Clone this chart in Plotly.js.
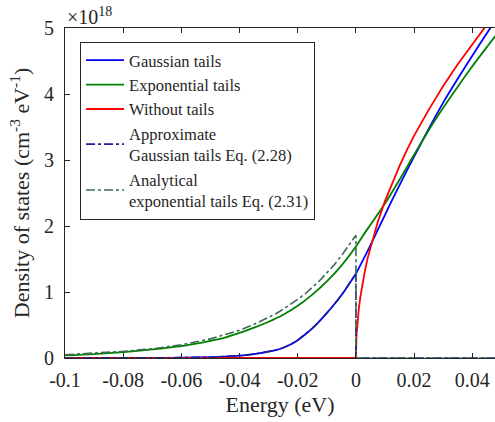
<!DOCTYPE html>
<html>
<head>
<meta charset="utf-8">
<script src="https://cdn.plot.ly/plotly-3.0.1.min.js"></script>
<style>
body{margin:0;font-family:"Liberation Serif";}
#chart text{font-family:"Liberation Serif" !important;}
</style>
</head>
<body>
<div id="chart" style="width:495px;height:422px"></div>
<script>
// Energy grids (eV) and density of states (x 1e18 cm^-3 eV^-1)
const gaussE = [-0.1,-0.09,-0.08,-0.07,-0.06,-0.05,-0.045,-0.04,-0.035,-0.03,-0.0275,-0.025,-0.0225,-0.02,-0.0175,-0.015,-0.0125,-0.01,-0.0075,-0.005,-0.0025,0,0.0025,0.005,0.0075,0.01,0.0125,0.015,0.0175,0.02,0.025,0.03,0.035,0.04,0.045,0.048];
const gaussDOS = [0,0,0.001,0.002,0.005,0.012,0.02,0.035,0.06,0.095,0.12,0.155,0.205,0.27,0.355,0.45,0.56,0.68,0.81,0.95,1.11,1.28,1.49,1.71,1.94,2.17,2.40,2.62,2.84,3.05,3.47,3.87,4.23,4.58,4.92,5.12];

const expE = [-0.1,-0.09,-0.08,-0.07,-0.06,-0.05,-0.045,-0.04,-0.035,-0.03,-0.025,-0.02,-0.015,-0.01,-0.005,0,0.0025,0.005,0.0075,0.01,0.0125,0.015,0.0175,0.02,0.025,0.03,0.035,0.04,0.045,0.048];
const expDOS = [0.04,0.06,0.09,0.13,0.18,0.26,0.31,0.38,0.46,0.55,0.655,0.79,0.96,1.16,1.40,1.69,1.86,2.02,2.18,2.34,2.52,2.70,2.89,3.08,3.45,3.79,4.11,4.42,4.71,4.88];

const noTailE = [-0.1,0,0.0002,0.0005,0.001,0.0015,0.002,0.003,0.004,0.005,0.0075,0.01,0.0125,0.015,0.0175,0.02,0.025,0.03,0.035,0.04,0.045,0.048];
const noTailDOS = [0,0,0.34,0.53,0.75,0.92,1.06,1.30,1.51,1.68,2.06,2.38,2.66,2.91,3.15,3.37,3.76,4.12,4.45,4.76,5.05,5.21];

const approxE = [-0.1,-0.09,-0.08,-0.07,-0.06,-0.05,-0.045,-0.04,-0.035,-0.03,-0.0275,-0.025,-0.0225,-0.02,-0.0175,-0.015,-0.0125,-0.01,-0.0075,-0.005,-0.0025,0,0,0.048];
const approxDOS = [0,0,0.001,0.002,0.005,0.012,0.02,0.035,0.06,0.095,0.12,0.155,0.205,0.27,0.355,0.45,0.56,0.68,0.81,0.95,1.11,1.28,0,0];

const analyticE = [-0.1,-0.09,-0.08,-0.07,-0.06,-0.05,-0.045,-0.04,-0.035,-0.03,-0.0275,-0.025,-0.0225,-0.02,-0.0175,-0.015,-0.0125,-0.01,-0.0075,-0.005,-0.0025,0,0,0.048];
const analyticDOS = [0.05,0.07,0.10,0.14,0.20,0.29,0.35,0.42,0.51,0.61,0.67,0.74,0.81,0.89,0.97,1.07,1.17,1.29,1.41,1.55,1.70,1.86,0,0];

const seriesNames = ["Gaussian tails","Exponential tails","Without tails","Approximate<br>Gaussian tails Eq. (2.28)","Analytical<br>exponential tails Eq. (2.31)"];
const xTickVals = [-0.1,-0.08,-0.06,-0.04,-0.02,0,0.02,0.04];
const xTickText = ["-0.1","-0.08","-0.06","-0.04","-0.02","0","0.02","0.04"];
const yTickVals = [0,1,2,3,4,5];
const yTickText = ["0","1","2","3","4","5"];

const INK = "#262626";

const traces = [
  {x: gaussE, y: gaussDOS, name: seriesNames[0], mode: "lines", line: {color: "#0000FF", width: 1.8, shape: "spline", smoothing: 0.8}},
  {x: expE, y: expDOS, name: seriesNames[1], mode: "lines", line: {color: "#008000", width: 1.8, shape: "spline", smoothing: 0.8}},
  {x: noTailE, y: noTailDOS, name: seriesNames[2], mode: "lines", line: {color: "#FF0000", width: 1.8}},
  {x: approxE, y: approxDOS, name: seriesNames[3], mode: "lines", line: {color: "#1F1F8F", width: 1.6, dash: "dashdot"}},
  {x: analyticE, y: analyticDOS, name: seriesNames[4], mode: "lines", line: {color: "#3A6B50", width: 1.6, dash: "dashdot"}}
];

const layout = {
  width: 495, height: 422,
  margin: {l: 65, r: 0, t: 28, b: 64},
  paper_bgcolor: "#fff", plot_bgcolor: "#fff",
  showlegend: true,
  legend: {
    x: 0.035, y: 0.958, xanchor: "left", yanchor: "top",
    bgcolor: "#fff", bordercolor: INK, borderwidth: 1,
    font: {family: "Liberation Serif", size: 16.5, color: INK},
    itemwidth: 38,
    tracegroupgap: 0
  },
  xaxis: {
    range: [-0.1, 0.0478], autorange: false,
    tickvals: xTickVals, ticktext: xTickText,
    ticks: "inside", ticklen: 5, tickcolor: INK, tickwidth: 1,
    showline: true, linecolor: INK, linewidth: 1, mirror: "ticks",
    showgrid: false, zeroline: false,
    tickfont: {family: "Liberation Serif", size: 20, color: INK},
    ticklabelstandoff: 4,
    title: {text: "Energy (eV)", font: {family: "Liberation Serif", size: 22, color: INK}, standoff: 6},
    automargin: false
  },
  yaxis: {
    range: [0, 5], autorange: false,
    tickvals: yTickVals, ticktext: yTickText,
    ticks: "inside", ticklen: 5, tickcolor: INK, tickwidth: 1,
    showline: true, linecolor: INK, linewidth: 1, mirror: false,
    showgrid: false, zeroline: false,
    tickfont: {family: "Liberation Serif", size: 20, color: INK},
    ticklabelstandoff: 6,
    title: {text: "Density of states (cm<sup>-3</sup> eV<sup>-1</sup>)", font: {family: "Liberation Serif", size: 22, color: INK}, standoff: 8},
    automargin: false
  },
  annotations: [
    {xref: "paper", yref: "paper", x: 0, y: 1, xanchor: "left", yanchor: "bottom",
     text: "×10<sup>18</sup>", showarrow: false, font: {family: "Liberation Serif", size: 20, color: INK}, yshift: -2}
  ]
};

function forceSerif() {
  document.querySelectorAll("#chart text").forEach(function (t) {
    t.style.setProperty("font-family", "\"Liberation Serif\"", "important");
    t.setAttribute("font-family", "Liberation Serif");
  });
}

Plotly.newPlot("chart", traces, layout, {staticPlot: true}).then(forceSerif);
forceSerif();
</script>
</body>
</html>
